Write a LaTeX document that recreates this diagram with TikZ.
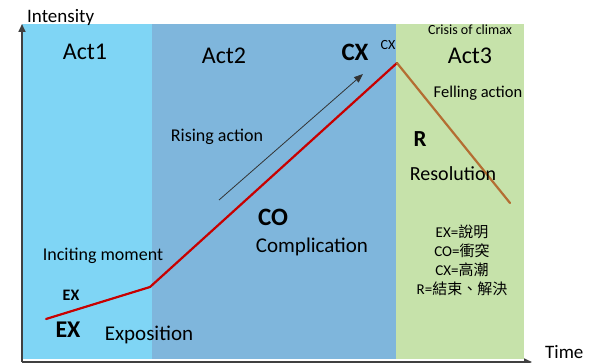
\documentclass[tikz,border=0pt]{standalone}
\usepackage{fontspec}
\setmainfont{Carlito}
\newfontfamily\cjk{Noto Sans CJK TC}
\usetikzlibrary{arrows.meta}

\definecolor{actone}{RGB}{127,213,245}
\definecolor{acttwo}{RGB}{127,182,220}
\definecolor{actthree}{RGB}{198,226,170}
\definecolor{risered}{RGB}{200,0,0}
\definecolor{fallbrown}{RGB}{180,110,50}
\definecolor{axisgray}{RGB}{64,64,64}

\newcommand\fsz[1]{\fontsize{#1}{#1}\selectfont}

\tikzset{
  lbl/.style={inner sep=0pt, text=black},
  axisline/.style={axisgray, line width=1.6pt, -{Triangle[length=8pt, width=7pt]}},
  plotline/.style={line width=2.2pt, line cap=round, line join=round}
}

\begin{document}
\begin{tikzpicture}[x=1pt, y=-1pt]
    \useasboundingbox (0,0) rectangle (594,363);

    % acts
    \fill[actone] (22,24) rectangle (152,359);
    \fill[acttwo] (152,24) rectangle (396,359);
    \fill[actthree] (396,24) rectangle (524,359);

    % axes
    \coordinate (orig) at (22,362);
    \coordinate (ytop) at (22,24);
    \coordinate (xend) at (532,362);
    \draw[axisline] (orig) -- (ytop);
    \draw[axisline] (orig) -- (xend);
    \node[lbl, anchor=west, font=\fsz{19}] (intensity) at (27,17) {Intensity};
    \node[lbl, anchor=west, font=\fsz{19}] (time) at (545,352) {Time};

    % plot
    \coordinate (start) at (46,319);
    \coordinate (incite) at (150,287);
    \coordinate (climax) at (397,63);
    \coordinate (resolve) at (510,203);
    \draw[plotline, risered] (start) -- (incite) -- (climax);
    \draw[plotline, fallbrown] (climax) -- (resolve);

    \coordinate (risefrom) at (219,200);
    \coordinate (riseto) at (363,74);
    \draw[black!80, line width=0.8pt, -{Triangle[length=9pt, width=7pt]}] (risefrom) -- (riseto);

    % labels
    \node[lbl, font=\fsz{24}] (act1) at (85,52) {Act1};
    \node[lbl, font=\fsz{24}] (act2) at (224,56) {Act2};
    \node[lbl, font=\fsz{24}] (act3) at (470,56) {Act3};
    \node[lbl, font=\fsz{14}] (crisis) at (470,30) {Crisis of climax};
    \node[lbl, font=\fsz{25}\bfseries] (cxbig) at (355,52) {CX};
    \node[lbl, font=\fsz{14}] (cxsmall) at (388,45) {CX};
    \node[lbl, font=\fsz{16.5}] (falling) at (478,93) {Felling action};
    \node[lbl, font=\fsz{18}] (rising) at (217,137) {Rising action};
    \node[lbl, font=\fsz{23}\bfseries] (rbig) at (420,139) {R};
    \node[lbl, font=\fsz{20}] (resol) at (453,174) {Resolution};
    \node[lbl, font=\fsz{25}\bfseries] (cobig) at (273,217) {CO};
    \node[lbl, font=\fsz{21}] (compl) at (312,247) {Complication};
    \node[lbl, font=\fsz{18}] (inciting) at (103,256) {Inciting moment};
    \node[lbl, font=\fsz{16}\bfseries] (exsmall) at (71,295) {EX};
    \node[lbl, font=\fsz{24}\bfseries] (exbig) at (68,330) {EX};
    \node[lbl, font=\fsz{21}] (expo) at (149,335) {Exposition};

    % legend
    \node[lbl, font=\fsz{15}, align=center] (legend) at (462,260)
      {EX={\cjk 說明}\\[4pt] CO={\cjk 衝突}\\[4pt] CX={\cjk 高潮}\\[4pt] R={\cjk 結束、解決}};
\end{tikzpicture}
\end{document}
